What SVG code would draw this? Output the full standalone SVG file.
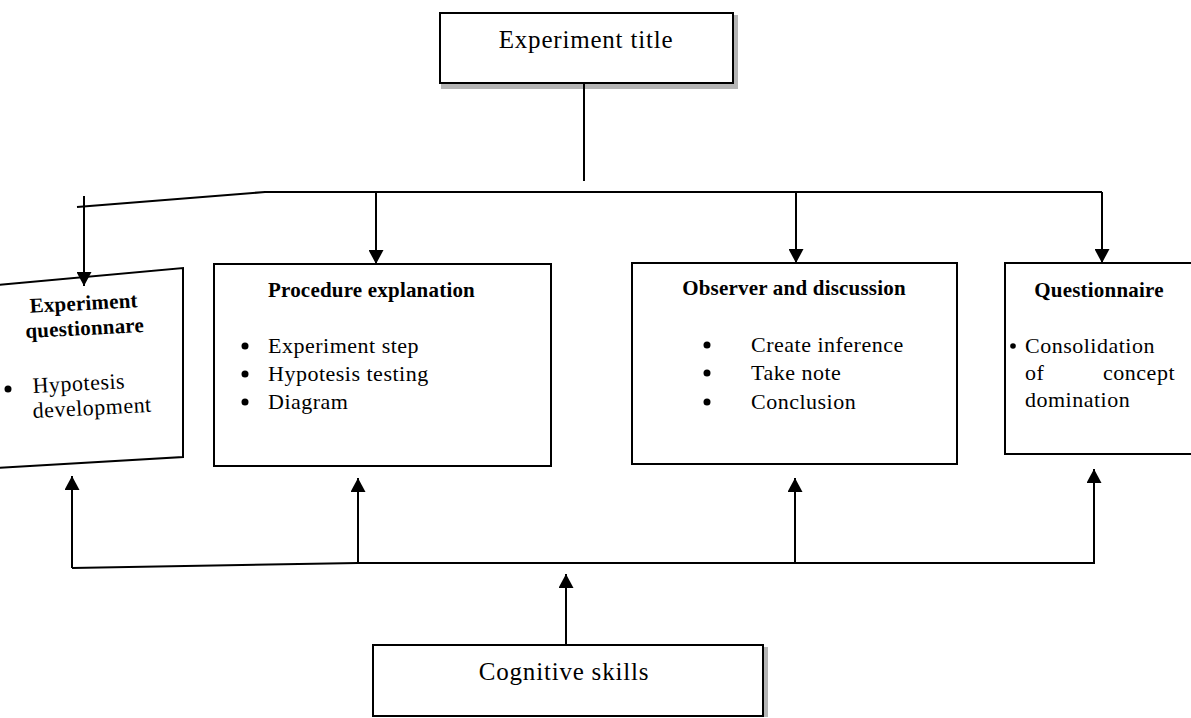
<svg xmlns="http://www.w3.org/2000/svg" width="1191" height="718" viewBox="0 0 1191 718">
<defs>
<marker id="arr" markerUnits="userSpaceOnUse" markerWidth="15" markerHeight="15" viewBox="0 0 14 15" refX="14" refY="7.5" orient="auto">
<path d="M0,0 L14,7.5 L0,15 Z" fill="#000"/>
</marker>
<style>
.box{fill:#fff;stroke:#000;stroke-width:2}
.shadow{fill:#b5b5b5}
.ln{fill:none;stroke:#000;stroke-width:2}
.ar{fill:none;stroke:#000;stroke-width:2;marker-end:url(#arr)}
.t{font-family:"Liberation Serif","Times New Roman",serif;fill:#000}
.big{font-size:25px;letter-spacing:0.8px}
.hd{font-size:21px;font-weight:bold;letter-spacing:0.2px}
.tx{font-size:22px;letter-spacing:0.5px}
.dot{fill:#000}
</style>
</defs>
<g id="experiment-title">
<rect class="shadow" x="441" y="83" width="297" height="6"/>
<rect class="shadow" x="733" y="15" width="5" height="74"/>
<rect class="box" x="440" y="13" width="293" height="70"/>
<text class="t big" x="586" y="48" text-anchor="middle">Experiment title</text>
</g>
<g id="experiment-questionnare">
<polygon class="box" points="-4,285 183,268 183,457 -4,468"/>
<text class="t hd" x="84" y="310" text-anchor="middle" transform="rotate(-3 84 310)">Experiment</text>
<text class="t hd" x="85" y="335" text-anchor="middle" transform="rotate(-3 85 335)">questionnare</text>
<circle class="dot" cx="8" cy="389" r="3.5"/>
<text class="t tx" x="33" y="393" transform="rotate(-3 33 393)">Hypotesis</text>
<text class="t tx" x="33" y="418" transform="rotate(-3 33 418)">development</text>
</g>
<g id="procedure-explanation">
<rect class="box" x="214" y="264" width="337" height="202"/>
<text class="t hd" x="268" y="297">Procedure explanation</text>
<circle class="dot" cx="245" cy="346" r="3.5"/>
<text class="t tx" x="268" y="353">Experiment step</text>
<circle class="dot" cx="245" cy="374" r="3.5"/>
<text class="t tx" x="268" y="381">Hypotesis testing</text>
<circle class="dot" cx="245" cy="402" r="3.5"/>
<text class="t tx" x="268" y="409">Diagram</text>
</g>
<g id="observer-and-discussion">
<rect class="box" x="632" y="263" width="325" height="201"/>
<text class="t hd" x="794" y="295" text-anchor="middle">Observer and discussion</text>
<circle class="dot" cx="707" cy="345" r="3.5"/>
<text class="t tx" x="751" y="352">Create inference</text>
<circle class="dot" cx="707" cy="373" r="3.5"/>
<text class="t tx" x="751" y="380">Take note</text>
<circle class="dot" cx="707" cy="402" r="3.5"/>
<text class="t tx" x="751" y="409">Conclusion</text>
</g>
<g id="questionnaire">
<rect class="box" x="1005" y="263" width="190" height="191"/>
<text class="t hd" x="1099" y="297" text-anchor="middle">Questionnaire</text>
<circle class="dot" cx="1013" cy="346" r="2.8"/>
<text class="t tx" x="1025" y="353">Consolidation</text>
<text class="t tx" x="1025" y="380">of</text>
<text class="t tx" x="1175" y="380" text-anchor="end">concept</text>
<text class="t tx" x="1025" y="407">domination</text>
</g>
<g id="cognitive-skills">
<rect class="shadow" x="763" y="647" width="5" height="70"/>
<rect class="box" x="373" y="645" width="390" height="71"/>
<text class="t big" x="564" y="680" text-anchor="middle">Cognitive skills</text>
</g>
<g id="connectors">
<line class="ln" x1="584" y1="84" x2="584" y2="181"/>
<polyline class="ln" points="77,207 265,192 1102,192"/>
<line class="ar" x1="84" y1="196" x2="84" y2="286"/>
<line class="ar" x1="376" y1="192" x2="376" y2="264"/>
<line class="ar" x1="796" y1="192" x2="796" y2="263"/>
<line class="ar" x1="1102" y1="192" x2="1102" y2="263"/>
<polyline class="ln" points="72,568 358,563 1094,563"/>
<line class="ar" x1="72" y1="568" x2="72" y2="476"/>
<line class="ar" x1="358" y1="563" x2="358" y2="478"/>
<line class="ar" x1="795" y1="563" x2="795" y2="478"/>
<line class="ar" x1="1094" y1="564" x2="1094" y2="469"/>
<line class="ar" x1="566" y1="645" x2="566" y2="574"/>
</g>
</svg>
